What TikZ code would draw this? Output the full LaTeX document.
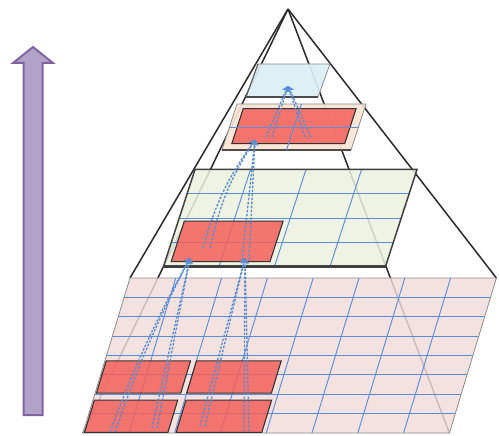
\documentclass[tikz,border=0pt]{standalone}
\usetikzlibrary{arrows.meta}
\definecolor{pinkf}{HTML}{F2DCDB}
\definecolor{greenf}{HTML}{EBF1DE}
\definecolor{beigef}{HTML}{FBE5D5}
\definecolor{bluef}{HTML}{DBEEF4}
\definecolor{redf}{HTML}{F4605B}
\definecolor{gridc}{HTML}{5B8ED6}
\definecolor{dashc}{HTML}{5A8CD2}
\definecolor{purf}{HTML}{B3A2C7}
\definecolor{purd}{HTML}{8064A2}
\definecolor{pyr}{HTML}{2A2A2A}
\begin{document}
\begin{tikzpicture}[x=1pt,y=-1pt,
  gridline/.style={draw=gridc, line width=0.95pt},
  redcell/.style={fill=redf, fill opacity=0.85, draw=black!80, line width=1.1pt},
  pyrline/.style={draw=pyr, line width=1.5pt},
  flow/.style={draw=dashc, line width=1.35pt, dash pattern=on 2.4pt off 1.6pt, -{Stealth[length=5.5pt,width=8pt]}},
  layerborder/.style={draw=black!45, line width=0.8pt},
  layershadow/.style={draw=black!70, line width=2.2pt},
]
\useasboundingbox (0,0) rectangle (499,436);

% purple arrow
\draw[fill=purf, draw=purd, line width=2pt, line join=miter]
  (23.5,415) -- (42.5,415) -- (42.5,63) -- (53,63) -- (33,47) -- (13,63) -- (23.5,63) -- cycle;

% pyramid
\coordinate (apex) at (288,9);
\coordinate (bBL) at (83,433);
\coordinate (bBR) at (449.4,433);
\coordinate (bTR) at (496.4,278);
\coordinate (bTL) at (130,278);
\draw[pyrline] (apex) -- (bTL);
\draw[pyrline] (apex) -- (bBL);
\draw[pyrline] (apex) -- (bTR);
\draw[pyrline] (apex) -- (bBR);

% bottom layer 8x8
\begin{scope}[shift={(83pt,-433pt)}, x={(45.8pt,0pt)}, y={(5.875pt,19.375pt)}]
  \fill[pinkf, fill opacity=0.82] (0,0) -- (8,0) -- (8,8) -- (0,8) -- cycle;
  \foreach \i in {1,...,7} {
    \draw[gridline] (\i,0) -- (\i,8);
    \draw[gridline] (0,\i) -- (8,\i);
  }
  \draw[layerborder] (0,0) -- (8,0) -- (8,8) -- (0,8) -- cycle;
  \draw[redcell] (0.03,0.03) -- (1.85,0.03) -- (1.85,1.7) -- (0.03,1.7) -- cycle;
  \draw[redcell] (2.03,0.03) -- (3.9,0.03) -- (3.9,1.7) -- (2.03,1.7) -- cycle;
  \draw[redcell] (0.03,2.06) -- (1.87,2.06) -- (1.87,3.72) -- (0.03,3.72) -- cycle;
  \draw[redcell] (2.0,2.06) -- (3.85,2.06) -- (3.85,3.72) -- (2.0,3.72) -- cycle;
\end{scope}

% middle layer 4x4
\begin{scope}[shift={(163.5pt,-266.5pt)}, x={(55.5pt,0pt)}, y={(7.875pt,24.25pt)}]
  \fill[greenf, fill opacity=0.85] (0,0) -- (4,0) -- (4,4) -- (0,4) -- cycle;
  \foreach \i in {1,...,3} {
    \draw[gridline] (\i,0) -- (\i,4);
    \draw[gridline] (0,\i) -- (4,\i);
  }
  \draw[draw=black!75, line width=1.5pt] (0,0) -- (4,0) -- (4,4) -- (0,4) -- cycle;
  \draw[draw=black!75, line width=2.8pt] (0,0) -- (4,0);
  \draw[redcell] (0.11,0.2) -- (1.89,0.2) -- (1.89,1.87) -- (0.11,1.87) -- cycle;
\end{scope}

% second layer 2x2 (beige)
\begin{scope}[shift={(222pt,-150pt)}, x={(64.5pt,0pt)}, y={(7.5pt,23pt)}]
  \fill[beigef, fill opacity=0.92] (0,0) -- (2,0) -- (2,2) -- (0,2) -- cycle;
  \draw[layerborder] (0,0) -- (2,0) -- (2,2) -- (0,2) -- cycle;
  \draw[layershadow] (0,0) -- (2,0);
  \draw[redcell] (0.12,0.28) -- (1.87,0.28) -- (1.87,1.8) -- (0.12,1.8) -- cycle;
  \draw[gridline] (1,0) -- (1,2);
  \draw[gridline] (0,1) -- (2,1);
\end{scope}

% top layer (blue)
\begin{scope}[shift={(246pt,-97pt)}, x={(72pt,0pt)}, y={(12pt,33pt)}]
  \fill[bluef, fill opacity=0.92] (0,0) -- (1,0) -- (1,1) -- (0,1) -- cycle;
  \draw[layerborder] (0,0) -- (1,0) -- (1,1) -- (0,1) -- cycle;
  \draw[layershadow] (0,0) -- (1,0);
  \draw[draw=black!65, line width=1pt] (0,0) -- (0,1);
\end{scope}

% flows bottom -> middle
\coordinate (s1a) at (110,432); \coordinate (s1b) at (115,432);
\coordinate (s2a) at (152,428); \coordinate (s2b) at (157,428);
\coordinate (s3a) at (200,426); \coordinate (s3b) at (205,426);
\coordinate (s4a) at (244,431); \coordinate (s4b) at (249,431);
\coordinate (tA) at (190,258); \coordinate (tB) at (245,258);
\draw[flow] (s1a) to[bend left=4] (tA);
\draw[flow] (s1b) to[bend left=4] (tA);
\draw[flow] (s2a) -- (tA);
\draw[flow] (s2b) -- (tA);
\draw[flow] (s3a) -- (tB);
\draw[flow] (s3b) -- (tB);
\draw[flow] (s4a) -- (tB);
\draw[flow] (s4b) -- (tB);

% flows middle -> second
\coordinate (m1a) at (203,248); \coordinate (m1b) at (210,248);
\coordinate (m2a) at (242,260); \coordinate (m2b) at (249,260);
\coordinate (tC) at (255,140);
\draw[flow] (m1a) to[bend left=10] (tC);
\draw[flow] (m1b) to[bend left=10] (tC);
\draw[flow] (m2a) -- (tC);
\draw[flow] (m2b) -- (tC);

% flows second -> top
\coordinate (u1a) at (266,137); \coordinate (u1b) at (272,137);
\coordinate (u2a) at (305,137); \coordinate (u2b) at (311,137);
\coordinate (tD) at (288,86);
\draw[flow] (u1a) -- (tD);
\draw[flow] (u1b) -- (tD);
\draw[flow] (u2a) -- (tD);
\draw[flow] (u2b) -- (tD);
\end{tikzpicture}
\end{document}
